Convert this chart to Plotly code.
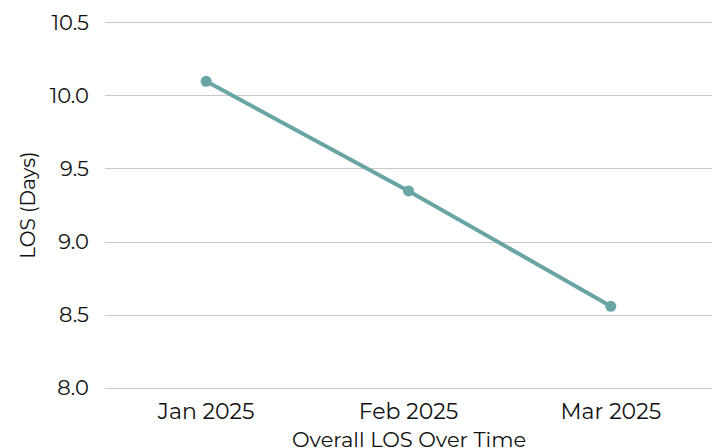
import plotly.graph_objects as go

months = ["Jan 2025", "Feb 2025", "Mar 2025"]
los_days = [10.10, 9.35, 8.56]
y_ticks = [8.0, 8.5, 9.0, 9.5, 10.0, 10.5]
x_title = "Overall LOS Over Time"
y_title = "LOS (Days)"

fig = go.Figure()
fig.add_trace(go.Scatter(
    x=months, y=los_days, mode="lines+markers",
    line=dict(color="#68a5a4", width=4),
    marker=dict(color="#68a5a4", size=11),
    showlegend=False,
))

font_family = "Montserrat, 'Open Sans', 'DejaVu Sans', sans-serif"
fig.update_layout(
    width=718, height=448,
    margin=dict(l=105, r=6, t=20, b=57, autoexpand=False),
    paper_bgcolor="white", plot_bgcolor="white",
    font=dict(family=font_family, size=21, color="#111111"),
    xaxis=dict(
        showgrid=False, showline=False, zeroline=False, automargin=False,
        range=[-0.5, 2.5], ticks="", tickfont=dict(size=22),
        ticklabelstandoff=5,
    ),
    yaxis=dict(
        range=[7.98, 10.52], tickvals=y_ticks, automargin=False,
        ticktext=[f"{v:.1f}" for v in y_ticks],
        showgrid=True, gridcolor="#c8c8c8", gridwidth=1,
        zeroline=False, showline=False, ticks="", tickfont=dict(size=21),
        ticklabelstandoff=15,
    ),
    annotations=[
        dict(text=x_title, xref="paper", yref="paper", x=0.5, y=-0.132,
             xanchor="center", yanchor="middle", showarrow=False,
             font=dict(size=21)),
        dict(text=y_title, xref="paper", yref="paper", x=-0.128, y=0.5,
             xanchor="center", yanchor="middle", showarrow=False,
             textangle=-90, font=dict(size=20)),
    ],
)

fig.write_html("out.html")
